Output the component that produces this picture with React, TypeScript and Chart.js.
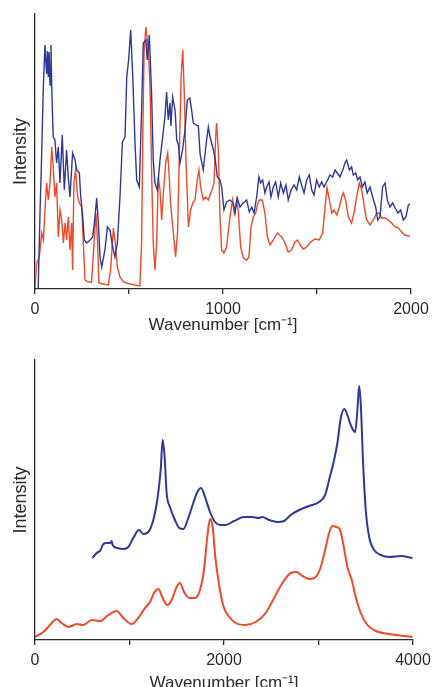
import React, { useEffect, useRef } from "react";
import { Chart, registerables } from "chart.js";

Chart.register(...registerables);

// ---------- Top chart (0–2000 cm-1) ----------
const topXTicks = [0, 500, 1000, 1500, 2000];
const topXLabels = [0, 1000, 2000];

const topBlueX = [17, 27, 35, 44, 53, 58, 62, 66, 71, 75, 80, 85, 89, 92, 97, 106, 115, 124, 133, 145, 156, 168, 177, 186, 200, 213, 222, 236, 243, 254, 262, 275, 293, 307, 319, 328, 337, 346, 355, 372, 385, 399, 413, 425, 438, 452, 465, 479, 488, 498, 509, 520, 532, 541, 555, 567, 576, 590, 597, 608, 620, 629, 638, 651, 665, 679, 691, 700, 709, 718, 723, 732, 745, 754, 762, 771, 785, 798, 810, 824, 833, 842, 856, 869, 878, 895, 913, 922, 931, 945, 957, 970, 984, 993, 1005, 1019, 1037, 1055, 1064, 1076, 1090, 1108, 1126, 1140, 1153, 1165, 1179, 1191, 1200, 1211, 1223, 1232, 1245, 1255, 1268, 1280, 1294, 1307, 1321, 1335, 1347, 1362, 1378, 1392, 1406, 1418, 1431, 1445, 1459, 1472, 1484, 1498, 1512, 1525, 1537, 1551, 1569, 1583, 1596, 1608, 1622, 1637, 1649, 1658, 1672, 1684, 1693, 1706, 1716, 1729, 1741, 1755, 1767, 1782, 1796, 1812, 1823, 1835, 1849, 1862, 1874, 1888, 1902, 1916, 1931, 1945, 1959, 1973, 1986, 1995];
const topBlueY = [0, 79, 131, 200, 244, 226, 215, 238, 212, 237, 204, 244, 202, 181, 152, 149, 126, 142, 106, 154, 99, 139, 112, 92, 136, 129, 119, 116, 93, 72, 49, 46, 49, 52, 72, 91, 66, 32, 22, 39, 62, 59, 42, 32, 46, 92, 147, 152, 212, 229, 259, 212, 146, 109, 102, 179, 246, 249, 229, 254, 196, 129, 106, 99, 129, 152, 172, 197, 169, 186, 163, 192, 179, 149, 145, 126, 139, 159, 189, 191, 179, 166, 164, 163, 135, 119, 149, 162, 152, 142, 132, 112, 109, 102, 79, 87, 89, 86, 76, 91, 82, 86, 89, 77, 82, 76, 92, 112, 106, 109, 96, 102, 107, 92, 102, 107, 92, 106, 96, 104, 89, 99, 104, 99, 112, 104, 96, 109, 114, 99, 94, 109, 102, 107, 102, 107, 114, 112, 119, 116, 112, 119, 126, 129, 119, 122, 114, 116, 109, 112, 102, 107, 96, 102, 92, 82, 69, 72, 102, 106, 89, 82, 86, 81, 76, 79, 69, 72, 84, 85];

const topRedX = [0, 9, 23, 36, 45, 53, 62, 71, 80, 89, 97, 106, 115, 124, 133, 142, 151, 160, 168, 177, 186, 195, 200, 207, 216, 227, 236, 248, 257, 266, 284, 301, 314, 324, 333, 340, 363, 390, 402, 417, 427, 438, 452, 470, 505, 558, 567, 573, 580, 590, 603, 612, 621, 629, 638, 647, 656, 665, 674, 683, 695, 706, 714, 721, 736, 748, 759, 768, 777, 786, 794, 803, 816, 828, 839, 851, 863, 872, 881, 895, 908, 922, 931, 941, 952, 961, 966, 975, 984, 993, 1005, 1019, 1037, 1051, 1060, 1073, 1082, 1094, 1108, 1126, 1138, 1149, 1161, 1174, 1183, 1193, 1209, 1223, 1236, 1250, 1268, 1289, 1312, 1330, 1347, 1365, 1383, 1397, 1410, 1427, 1445, 1466, 1489, 1512, 1530, 1543, 1553, 1566, 1578, 1590, 1605, 1619, 1631, 1640, 1652, 1667, 1684, 1697, 1711, 1725, 1738, 1752, 1764, 1782, 1800, 1817, 1831, 1844, 1862, 1879, 1897, 1915, 1933, 1950, 1968, 1986, 1995];
const topRedY = [1, 26, 32, 56, 49, 79, 106, 89, 106, 142, 122, 92, 106, 52, 79, 69, 46, 66, 49, 72, 39, 66, 19, 106, 119, 92, 86, 82, 46, 9, 7, 7, 46, 76, 46, 6, 5, 4, 19, 61, 46, 22, 12, 7, 5, 3, 46, 146, 236, 262, 239, 202, 112, 46, 19, 46, 112, 99, 69, 96, 126, 136, 112, 86, 56, 32, 59, 136, 212, 239, 196, 129, 62, 79, 86, 89, 109, 119, 102, 89, 92, 89, 94, 99, 106, 152, 166, 139, 72, 39, 36, 42, 72, 89, 76, 89, 76, 42, 31, 29, 32, 62, 72, 76, 84, 89, 89, 76, 52, 44, 49, 56, 52, 46, 37, 39, 47, 49, 44, 40, 42, 47, 50, 49, 56, 82, 101, 89, 76, 79, 74, 82, 92, 96, 89, 72, 66, 76, 92, 106, 99, 82, 69, 64, 69, 76, 76, 71, 71, 69, 66, 62, 61, 57, 54, 53, 53];

// ---------- Bottom chart (0–4000 cm-1) ----------
const botXTicks = [0, 1000, 2000, 3000, 4000];
const botXLabels = [0, 2000, 4000];

const botBlueX = [607, 652, 695, 716, 751, 794, 811, 822, 871, 935, 988, 1040, 1100, 1146, 1199, 1252, 1294, 1330, 1351, 1372, 1393, 1428, 1481, 1527, 1570, 1622, 1675, 1718, 1757, 1799, 1852, 1905, 1958, 2018, 2106, 2212, 2300, 2364, 2406, 2477, 2565, 2636, 2706, 2795, 2900, 3006, 3070, 3112, 3165, 3200, 3236, 3274, 3306, 3341, 3387, 3412, 3430, 3447, 3472, 3500, 3536, 3589, 3659, 3747, 3871, 3994];
const botBlueY = [82, 87, 90, 95, 97, 97, 99, 95, 92, 91, 93, 102, 110, 106, 108, 120, 140, 170, 200, 183, 147, 133, 120, 112, 111, 122, 137, 148, 152, 143, 128, 118, 115, 115, 119, 123, 123, 122, 123, 120, 118, 119, 125, 130, 134, 138, 145, 160, 180, 197, 222, 231, 225, 215, 208, 230, 254, 237, 177, 130, 103, 90, 85, 83, 84, 82];

const botRedX = [0, 88, 159, 229, 282, 353, 441, 511, 600, 688, 776, 864, 935, 1023, 1093, 1164, 1217, 1259, 1305, 1351, 1400, 1446, 1499, 1534, 1577, 1633, 1693, 1746, 1788, 1823, 1852, 1880, 1908, 1945, 1993, 2056, 2124, 2229, 2335, 2441, 2530, 2618, 2706, 2766, 2830, 2907, 2971, 3024, 3070, 3112, 3147, 3190, 3225, 3260, 3306, 3352, 3394, 3447, 3518, 3606, 3747, 3994];
const botRedY = [3, 8, 15, 21, 17, 13, 16, 15, 20, 19, 25, 29, 22, 16, 22, 32, 38, 47, 51, 42, 35, 40, 53, 57, 48, 42, 42, 50, 70, 103, 121, 113, 83, 57, 34, 23, 17, 15, 18, 27, 42, 57, 67, 68, 64, 61, 63, 73, 90, 107, 114, 113, 111, 97, 73, 60, 43, 27, 15, 9, 6, 3];

const BLUE = "#2e3897";
const RED = "#f0492a";
const AXIS = "#2a2a2a";
const FONT = "'Liberation Sans', Arial, Helvetica, sans-serif";
const X_TITLE = "Wavenumber [cm\u207B\u00B9]";

function pts(xs: number[], ys: number[]) {
  return xs.map((x, i) => ({ x, y: ys[i] }));
}

interface Cfg {
  blue: { x: number; y: number }[];
  red: { x: number; y: number }[];
  xMax: number;
  yMax: number;
  ticks: number[];
  labels: number[];
  smooth: boolean;
  lineWidth: number;
  padTop: number;
  padRight: number;
  xAxisHeight: number;
  xTitlePadBottom: number;
}

function makeChart(canvas: HTMLCanvasElement, c: Cfg) {
  return new Chart(canvas, {
    type: "line",
    data: {
      datasets: [
        {
          data: c.blue,
          borderColor: BLUE,
          borderWidth: c.lineWidth,
          pointRadius: 0,
          fill: false,
          tension: c.smooth ? 0.4 : 0,
          cubicInterpolationMode: c.smooth ? "monotone" : "default",
        },
        {
          data: c.red,
          borderColor: RED,
          borderWidth: c.lineWidth,
          pointRadius: 0,
          fill: false,
          tension: c.smooth ? 0.4 : 0,
          cubicInterpolationMode: c.smooth ? "monotone" : "default",
        },
      ],
    },
    options: {
      animation: false,
      responsive: false,
      maintainAspectRatio: false,
      layout: { padding: { top: c.padTop, right: c.padRight, left: 0, bottom: 0 } },
      plugins: { legend: { display: false }, tooltip: { enabled: false }, title: { display: false } },
      scales: {
        x: {
          type: "linear",
          min: 0,
          max: c.xMax,
          offset: false,
          afterBuildTicks: (s: any) => {
            s.ticks = c.ticks.map((v) => ({ value: v }));
          },
          afterFit: (s: any) => {
            s.height = c.xAxisHeight;
            s.paddingLeft = 0;
            s.paddingRight = 0;
          },
          ticks: {
            autoSkip: false,
            maxRotation: 0,
            padding: 6,
            color: AXIS,
            font: { family: FONT, size: 16 },
            callback: (v: any) => (c.labels.includes(Number(v)) ? String(v) : ""),
          },
          grid: {
            display: true,
            drawOnChartArea: false,
            drawTicks: true,
            tickLength: 5,
            color: AXIS,
            lineWidth: 1.3,
          },
          border: { display: true, color: AXIS, width: 1.3 },
          title: {
            display: true,
            text: X_TITLE,
            color: AXIS,
            font: { family: FONT, size: 17 },
            padding: { top: 0, bottom: c.xTitlePadBottom },
          },
        },
        y: {
          type: "linear",
          min: 0,
          max: c.yMax,
          position: "left",
          afterFit: (s: any) => {
            s.width = 35;
          },
          ticks: { display: false },
          grid: { display: false },
          border: { display: true, color: AXIS, width: 1.3 },
          title: {
            display: true,
            text: "Intensity",
            color: AXIS,
            font: { family: FONT, size: 18 },
            padding: { top: 10, bottom: 0 },
          },
        },
      },
    },
  } as any);
}

export default function App() {
  const topRef = useRef<HTMLCanvasElement>(null);
  const botRef = useRef<HTMLCanvasElement>(null);

  useEffect(() => {
    const charts: Chart[] = [];
    if (topRef.current) {
      charts.push(
        makeChart(topRef.current, {
          blue: pts(topBlueX, topBlueY),
          red: pts(topRedX, topRedY),
          xMax: 2000,
          yMax: 275,
          ticks: topXTicks,
          labels: topXLabels,
          smooth: false,
          lineWidth: 1.4,
          padTop: 14,
          padRight: 22,
          xAxisHeight: 54,
          xTitlePadBottom: 7,
        })
      );
    }
    if (botRef.current) {
      charts.push(
        makeChart(botRef.current, {
          blue: pts(botBlueX, botBlueY),
          red: pts(botRedX, botRedY),
          xMax: 4000,
          yMax: 280,
          ticks: botXTicks,
          labels: botXLabels,
          smooth: true,
          lineWidth: 2,
          padTop: 17,
          padRight: 20,
          xAxisHeight: 63,
          xTitlePadBottom: 9,
        })
      );
    }
    return () => charts.forEach((ch) => ch.destroy());
  }, []);

  return (
    <div
      style={{
        position: "fixed",
        left: 0,
        top: 0,
        width: 433,
        height: 687,
        overflow: "hidden",
        background: "#ffffff",
      }}
    >
      <canvas
        ref={topRef}
        width={433}
        height={343}
        style={{ position: "absolute", left: 0, top: 0, width: 433, height: 343 }}
      />
      <canvas
        ref={botRef}
        width={433}
        height={360}
        style={{ position: "absolute", left: 0, top: 343, width: 433, height: 360 }}
      />
    </div>
  );
}
